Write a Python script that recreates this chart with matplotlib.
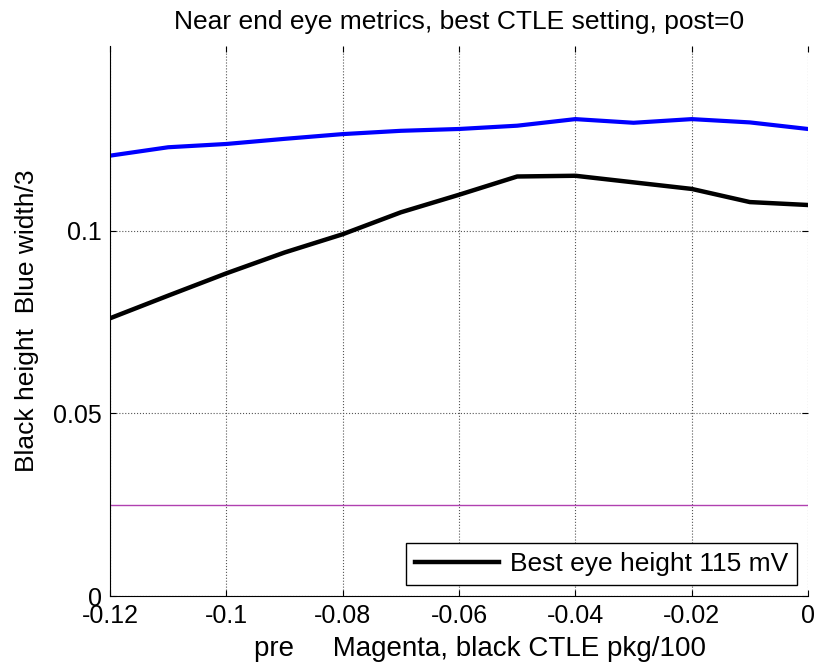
import numpy as np
from matplotlib import pyplot as plt

plt.rcParams['font.family'] = ['Liberation Sans', 'DejaVu Sans']

pre = [-0.12, -0.11, -0.10, -0.09, -0.08, -0.07, -0.06, -0.05, -0.04, -0.03, -0.02, -0.01, 0.0]
blue_width = [0.1205, 0.1228, 0.1237, 0.1251, 0.1264, 0.1273, 0.1278, 0.1287, 0.1305, 0.1295, 0.1305, 0.1296, 0.1278]
black_height = [0.0760, 0.0822, 0.0883, 0.0940, 0.0990, 0.1050, 0.1098, 0.1148, 0.1150, 0.1132, 0.1114, 0.1078, 0.1070]
magenta = [0.025] * len(pre)

fig = plt.figure(figsize=(8.18, 6.70), dpi=100)
ax = fig.add_axes([0.1345, 0.1104, 0.8533, 0.8209])

ax.plot(pre, magenta, color='#b040b0', linewidth=1.0)
ax.plot(pre, blue_width, color='#0000ff', linewidth=3.0)
line_black, = ax.plot(pre, black_height, color='k', linewidth=3.2)

ax.set_xlim(-0.12, 0)
ax.set_ylim(0, 0.1505)
ax.set_xticks([-0.12, -0.1, -0.08, -0.06, -0.04, -0.02, 0])
ax.set_xticklabels(['-0.12', '-0.1', '-0.08', '-0.06', '-0.04', '-0.02', '0'])
ax.set_yticks([0, 0.05, 0.1])
ax.set_yticklabels(['0', '0.05', '0.1'])
ax.tick_params(direction='in', length=4, labelsize=18, top=True, right=True)
ax.tick_params(axis='x', pad=6)
ax.tick_params(axis='y', pad=6)
ax.grid(True, linestyle=':', color='#555555', linewidth=0.8)

ax.spines['top'].set_visible(False)
ax.spines['right'].set_visible(False)

ax.set_title('Near end eye metrics, best CTLE setting, post=0', fontsize=19, pad=12)
ax.set_xlabel('pre     Magenta, black CTLE pkg/100', fontsize=20)
ax.xaxis.set_label_coords(0.53, -0.072)
ax.set_ylabel('Black height  Blue width/3', fontsize=19, labelpad=10)

leg = ax.legend([line_black], ['Best eye height 115 mV'], loc='lower right',
                fontsize=19, fancybox=False, framealpha=1, edgecolor='k',
                handlelength=3.2, handletextpad=0.4, borderpad=0.35,
                borderaxespad=0.4)
leg.get_frame().set_linewidth(1.0)

fig.savefig('out.png', dpi=100)
